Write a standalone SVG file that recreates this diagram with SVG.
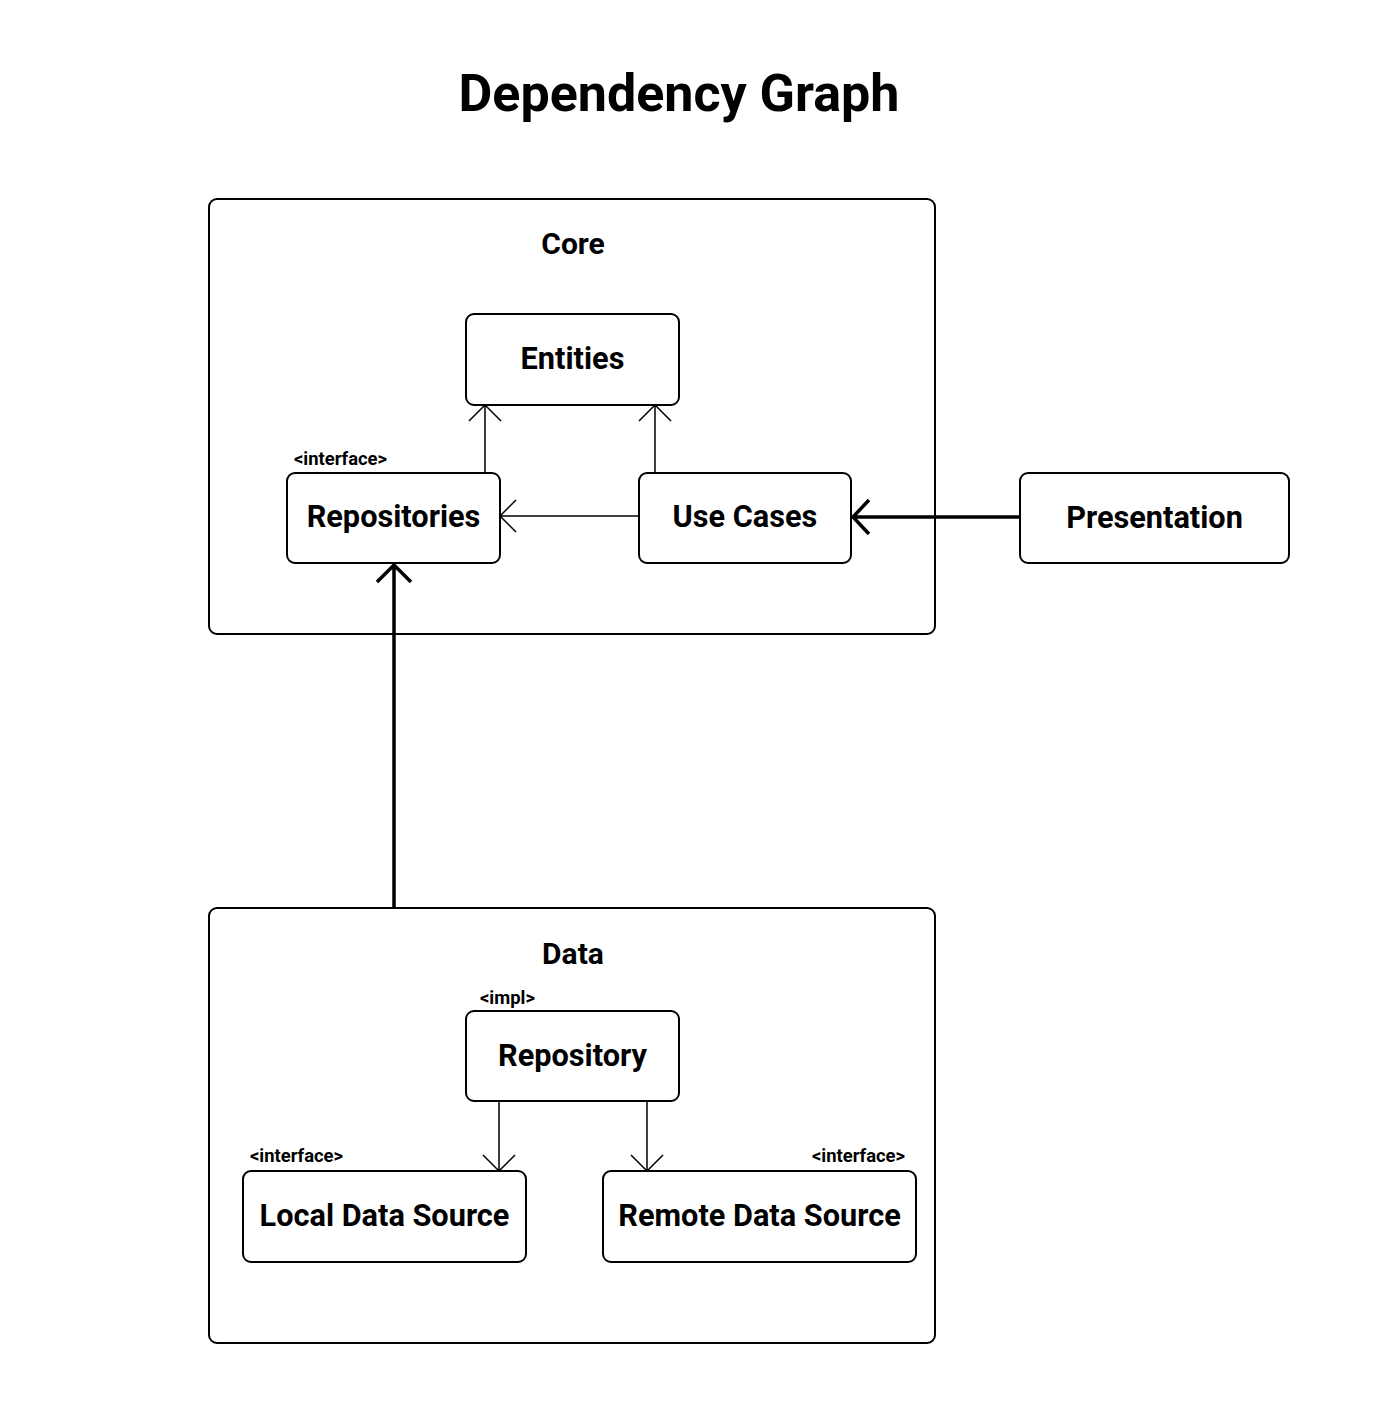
<svg xmlns="http://www.w3.org/2000/svg" width="1400" height="1418" viewBox="0 0 1400 1418">
<defs>
<style>
text{font-family:Roboto,"Liberation Sans",sans-serif;font-weight:bold;fill:#000}
.title{font-size:52px;text-anchor:middle}
.grp{font-size:30px;text-anchor:middle}
.lbl{font-size:30.7px;text-anchor:middle;dominant-baseline:central}
.ster{font-size:18.4px}
.box{fill:#fff;stroke:#000;stroke-width:2}
.cont{fill:none;stroke:#000;stroke-width:2}
.thin{fill:none;stroke:#000;stroke-width:1.5}
.thick{fill:none;stroke:#000;stroke-width:3.5}
</style>
</defs>
<rect width="1400" height="1418" fill="#fff"/>
<text class="title" x="679" y="111">Dependency Graph</text>
<g id="core">
<rect class="cont" x="209" y="199" width="726" height="435" rx="8"/>
<text class="grp" x="573" y="254">Core</text>
</g>
<g id="data">
<rect class="cont" x="209" y="908" width="726" height="435" rx="8"/>
<text class="grp" x="573" y="964">Data</text>
</g>
<g id="connectors">
<path class="thin" d="M485 473V405M469 421L485 405L501 421"/>
<path class="thin" d="M655 473V405M639 421L655 405L671 421"/>
<path class="thin" d="M639 516H500M516 500L500 516L516 532"/>
<path class="thick" d="M1020 517H853M869 500L853 517L869 534"/>
<path class="thick" d="M394 908V565M377 582L394 565L411 582"/>
<path class="thin" d="M499 1101V1171M483 1155L499 1171L515 1155"/>
<path class="thin" d="M647 1101V1171M631 1155L647 1171L663 1155"/>
</g>
<g id="entities">
<rect class="box" x="466" y="314" width="213" height="91" rx="8"/>
<text class="lbl" x="572.5" y="358">Entities</text>
</g>
<g id="repositories">
<rect class="box" x="287" y="473" width="213" height="90" rx="8"/>
<text class="lbl" x="393.5" y="516">Repositories</text>
<text class="ster" x="294" y="465">&lt;interface&gt;</text>
</g>
<g id="usecases">
<rect class="box" x="639" y="473" width="212" height="90" rx="8"/>
<text class="lbl" x="745" y="516">Use Cases</text>
</g>
<g id="presentation">
<rect class="box" x="1020" y="473" width="269" height="90" rx="8"/>
<text class="lbl" x="1154.5" y="517">Presentation</text>
</g>
<g id="repository">
<rect class="box" x="466" y="1011" width="213" height="90" rx="8"/>
<text class="lbl" x="572.5" y="1055">Repository</text>
<text class="ster" x="480" y="1004">&lt;impl&gt;</text>
</g>
<g id="local">
<rect class="box" x="243" y="1171" width="283" height="91" rx="8"/>
<text class="lbl" x="384.5" y="1215">Local Data Source</text>
<text class="ster" x="250" y="1162">&lt;interface&gt;</text>
</g>
<g id="remote">
<rect class="box" x="603" y="1171" width="313" height="91" rx="8"/>
<text class="lbl" x="759.5" y="1215">Remote Data Source</text>
<text class="ster" x="905" y="1162" text-anchor="end">&lt;interface&gt;</text>
</g>
</svg>
